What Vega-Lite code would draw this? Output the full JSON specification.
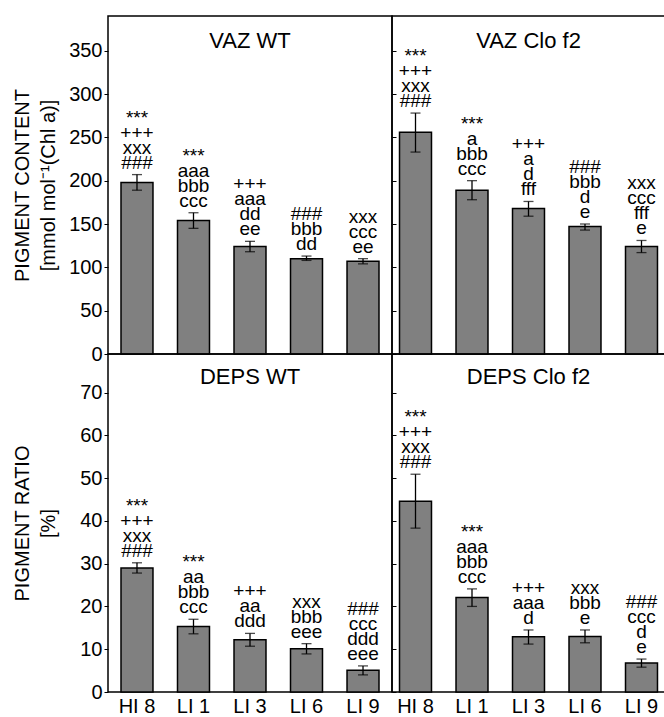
{
  "$schema": "https://vega.github.io/schema/vega-lite/v6.json",
  "padding": {"left": 11, "top": 15, "right": 0, "bottom": 0},
  "background": "white",
  "spacing": 0,
  "bounds": "flush",
  "columns": 2,
  "config": {
    "font": "Liberation Sans",
    "view": {"stroke": "black", "strokeWidth": 1.5},
    "concat": {"spacing": 0},
    "axis": {"labelFont": "Liberation Sans", "titleFont": "Liberation Sans", "labelColor": "black", "titleColor": "black", "tickColor": "black", "grid": false, "domain": false},
    "text": {"font": "Liberation Sans", "color": "black"}
  },
  "datasets": {
    "vazwt": [
      {"light": "HI 8", "value": 198, "lo": 189, "hi": 207, "t1": "###", "t2": "xxx", "t3": "+++", "t4": "***"},
      {"light": "LI 1", "value": 154, "lo": 145, "hi": 163, "t1": "ccc", "t2": "bbb", "t3": "aaa", "t4": "***"},
      {"light": "LI 3", "value": 124, "lo": 118, "hi": 130, "t1": "ee", "t2": "dd", "t3": "aaa", "t4": "+++"},
      {"light": "LI 6", "value": 110, "lo": 108, "hi": 113, "t1": "dd", "t2": "bbb", "t3": "###", "t4": ""},
      {"light": "LI 9", "value": 107, "lo": 104, "hi": 110, "t1": "ee", "t2": "ccc", "t3": "xxx", "t4": ""}
    ],
    "vazclo": [
      {"light": "HI 8", "value": 256, "lo": 233, "hi": 278, "t1": "###", "t2": "xxx", "t3": "+++", "t4": "***"},
      {"light": "LI 1", "value": 189, "lo": 178, "hi": 200, "t1": "ccc", "t2": "bbb", "t3": "a", "t4": "***"},
      {"light": "LI 3", "value": 168, "lo": 159, "hi": 176, "t1": "fff", "t2": "d", "t3": "a", "t4": "+++"},
      {"light": "LI 6", "value": 147, "lo": 143, "hi": 150, "t1": "e", "t2": "d", "t3": "bbb", "t4": "###"},
      {"light": "LI 9", "value": 124, "lo": 117, "hi": 131, "t1": "e", "t2": "fff", "t3": "ccc", "t4": "xxx"}
    ],
    "depswt": [
      {"light": "HI 8", "value": 29.0, "lo": 27.8, "hi": 30.2, "t1": "###", "t2": "xxx", "t3": "+++", "t4": "***"},
      {"light": "LI 1", "value": 15.3, "lo": 13.6, "hi": 17.0, "t1": "ccc", "t2": "bbb", "t3": "aa", "t4": "***"},
      {"light": "LI 3", "value": 12.2, "lo": 10.7, "hi": 13.7, "t1": "ddd", "t2": "aa", "t3": "+++", "t4": ""},
      {"light": "LI 6", "value": 10.1, "lo": 8.9, "hi": 11.3, "t1": "eee", "t2": "bbb", "t3": "xxx", "t4": ""},
      {"light": "LI 9", "value": 5.1, "lo": 4.0, "hi": 6.1, "t1": "eee", "t2": "ddd", "t3": "ccc", "t4": "###"}
    ],
    "depsclo": [
      {"light": "HI 8", "value": 44.6, "lo": 38.3, "hi": 50.9, "t1": "###", "t2": "xxx", "t3": "+++", "t4": "***"},
      {"light": "LI 1", "value": 22.1, "lo": 20.0, "hi": 24.1, "t1": "ccc", "t2": "bbb", "t3": "aaa", "t4": "***"},
      {"light": "LI 3", "value": 12.9, "lo": 11.2, "hi": 14.5, "t1": "d", "t2": "aaa", "t3": "+++", "t4": ""},
      {"light": "LI 6", "value": 13.0, "lo": 11.5, "hi": 14.5, "t1": "e", "t2": "bbb", "t3": "xxx", "t4": ""},
      {"light": "LI 9", "value": 6.8, "lo": 5.8, "hi": 7.7, "t1": "e", "t2": "d", "t3": "ccc", "t4": "###"}
    ]
  },
  "concat": [
    {
      "data": {"name": "vazwt"},
      "width": 284, "height": 338,
      "encoding": {
        "x": {"field": "light", "type": "nominal", "sort": null, "axis": null, "scale": {"paddingInner": 0.434, "paddingOuter": 0.23}}
      },
      "layer": [
        {"mark": {"type": "bar", "fill": "#808080", "stroke": "black", "strokeWidth": 1.5},
         "encoding": {"y": {"field": "value", "type": "quantitative", "scale": {"domain": [0, 390], "nice": false},
           "axis": {"values": [0, 50, 100, 150, 200, 250, 300, 350], "labelFontSize": 20, "tickSize": 4, "labelPadding": 2, "titleFontSize": 20, "titleFontWeight": "normal", "titlePadding": 10, "title": ["PIGMENT CONTENT", "[mmol mol⁻¹(Chl a)]"], "titleLineHeight": 26}}}},
        {"mark": {"type": "rule", "color": "black", "strokeWidth": 1.3}, "encoding": {"y": {"field": "lo", "type": "quantitative"}, "y2": {"field": "hi"}}},
        {"mark": {"type": "tick", "color": "black", "size": 10, "thickness": 1.3}, "encoding": {"y": {"field": "lo", "type": "quantitative"}}},
        {"mark": {"type": "tick", "color": "black", "size": 10, "thickness": 1.3}, "encoding": {"y": {"field": "hi", "type": "quantitative"}}},
        {"mark": {"type": "text", "baseline": "alphabetic", "fontSize": 19, "dy": -6}, "encoding": {"y": {"field": "hi", "type": "quantitative"}, "text": {"field": "t1"}}},
        {"mark": {"type": "text", "baseline": "alphabetic", "fontSize": 19, "dy": -21}, "encoding": {"y": {"field": "hi", "type": "quantitative"}, "text": {"field": "t2"}}},
        {"mark": {"type": "text", "baseline": "alphabetic", "fontSize": 19, "dy": -36}, "encoding": {"y": {"field": "hi", "type": "quantitative"}, "text": {"field": "t3"}}},
        {"mark": {"type": "text", "baseline": "alphabetic", "fontSize": 19, "dy": -51}, "encoding": {"y": {"field": "hi", "type": "quantitative"}, "text": {"field": "t4"}}},
        {"data": {"values": [{"panel": "VAZ WT"}]}, "mark": {"type": "text", "baseline": "alphabetic", "fontSize": 22},
         "encoding": {"x": {"datum": "LI 3"}, "y": {"datum": 353}, "text": {"field": "panel"}}}
      ]
    },
    {
      "data": {"name": "vazclo"},
      "width": 273, "height": 338,
      "encoding": {
        "x": {"field": "light", "type": "nominal", "sort": null, "axis": null, "scale": {"paddingInner": 0.434, "paddingOuter": 0.133}}
      },
      "layer": [
        {"mark": {"type": "bar", "fill": "#808080", "stroke": "black", "strokeWidth": 1.5},
         "encoding": {"y": {"field": "value", "type": "quantitative", "scale": {"domain": [0, 390], "nice": false},
           "axis": {"values": [0, 50, 100, 150, 200, 250, 300, 350], "labels": false, "tickSize": -4, "title": null}}}},
        {"mark": {"type": "rule", "color": "black", "strokeWidth": 1.3}, "encoding": {"y": {"field": "lo", "type": "quantitative"}, "y2": {"field": "hi"}}},
        {"mark": {"type": "tick", "color": "black", "size": 10, "thickness": 1.3}, "encoding": {"y": {"field": "lo", "type": "quantitative"}}},
        {"mark": {"type": "tick", "color": "black", "size": 10, "thickness": 1.3}, "encoding": {"y": {"field": "hi", "type": "quantitative"}}},
        {"mark": {"type": "text", "baseline": "alphabetic", "fontSize": 19, "dy": -6}, "encoding": {"y": {"field": "hi", "type": "quantitative"}, "text": {"field": "t1"}}},
        {"mark": {"type": "text", "baseline": "alphabetic", "fontSize": 19, "dy": -21}, "encoding": {"y": {"field": "hi", "type": "quantitative"}, "text": {"field": "t2"}}},
        {"mark": {"type": "text", "baseline": "alphabetic", "fontSize": 19, "dy": -36}, "encoding": {"y": {"field": "hi", "type": "quantitative"}, "text": {"field": "t3"}}},
        {"mark": {"type": "text", "baseline": "alphabetic", "fontSize": 19, "dy": -51}, "encoding": {"y": {"field": "hi", "type": "quantitative"}, "text": {"field": "t4"}}},
        {"data": {"values": [{"panel": "VAZ Clo f2"}]}, "mark": {"type": "text", "baseline": "alphabetic", "fontSize": 22},
         "encoding": {"x": {"datum": "LI 3"}, "y": {"datum": 353}, "text": {"field": "panel"}}}
      ]
    },
    {
      "data": {"name": "depswt"},
      "width": 284, "height": 338,
      "encoding": {
        "x": {"field": "light", "type": "nominal", "sort": null, "scale": {"paddingInner": 0.434, "paddingOuter": 0.23},
          "axis": {"title": null, "labelAngle": 0, "labelFontSize": 20, "ticks": false, "labelPadding": 4}}
      },
      "layer": [
        {"mark": {"type": "bar", "fill": "#808080", "stroke": "black", "strokeWidth": 1.5},
         "encoding": {"y": {"field": "value", "type": "quantitative", "scale": {"domain": [0, 79], "nice": false},
           "axis": {"values": [0, 10, 20, 30, 40, 50, 60, 70], "labelFontSize": 20, "tickSize": 4, "labelPadding": 2, "titleFontSize": 20, "titleFontWeight": "normal", "titlePadding": 21, "title": ["PIGMENT RATIO", "[%]"], "titleLineHeight": 26}}}},
        {"mark": {"type": "rule", "color": "black", "strokeWidth": 1.3}, "encoding": {"y": {"field": "lo", "type": "quantitative"}, "y2": {"field": "hi"}}},
        {"mark": {"type": "tick", "color": "black", "size": 10, "thickness": 1.3}, "encoding": {"y": {"field": "lo", "type": "quantitative"}}},
        {"mark": {"type": "tick", "color": "black", "size": 10, "thickness": 1.3}, "encoding": {"y": {"field": "hi", "type": "quantitative"}}},
        {"mark": {"type": "text", "baseline": "alphabetic", "fontSize": 19, "dy": -6}, "encoding": {"y": {"field": "hi", "type": "quantitative"}, "text": {"field": "t1"}}},
        {"mark": {"type": "text", "baseline": "alphabetic", "fontSize": 19, "dy": -21}, "encoding": {"y": {"field": "hi", "type": "quantitative"}, "text": {"field": "t2"}}},
        {"mark": {"type": "text", "baseline": "alphabetic", "fontSize": 19, "dy": -36}, "encoding": {"y": {"field": "hi", "type": "quantitative"}, "text": {"field": "t3"}}},
        {"mark": {"type": "text", "baseline": "alphabetic", "fontSize": 19, "dy": -51}, "encoding": {"y": {"field": "hi", "type": "quantitative"}, "text": {"field": "t4"}}},
        {"data": {"values": [{"panel": "DEPS WT"}]}, "mark": {"type": "text", "baseline": "alphabetic", "fontSize": 22},
         "encoding": {"x": {"datum": "LI 3"}, "y": {"datum": 72}, "text": {"field": "panel"}}}
      ]
    },
    {
      "data": {"name": "depsclo"},
      "width": 273, "height": 338,
      "encoding": {
        "x": {"field": "light", "type": "nominal", "sort": null, "scale": {"paddingInner": 0.434, "paddingOuter": 0.133},
          "axis": {"title": null, "labelAngle": 0, "labelFontSize": 20, "ticks": false, "labelPadding": 4}}
      },
      "layer": [
        {"mark": {"type": "bar", "fill": "#808080", "stroke": "black", "strokeWidth": 1.5},
         "encoding": {"y": {"field": "value", "type": "quantitative", "scale": {"domain": [0, 79], "nice": false},
           "axis": {"values": [0, 10, 20, 30, 40, 50, 60, 70], "labels": false, "tickSize": -4, "title": null}}}},
        {"mark": {"type": "rule", "color": "black", "strokeWidth": 1.3}, "encoding": {"y": {"field": "lo", "type": "quantitative"}, "y2": {"field": "hi"}}},
        {"mark": {"type": "tick", "color": "black", "size": 10, "thickness": 1.3}, "encoding": {"y": {"field": "lo", "type": "quantitative"}}},
        {"mark": {"type": "tick", "color": "black", "size": 10, "thickness": 1.3}, "encoding": {"y": {"field": "hi", "type": "quantitative"}}},
        {"mark": {"type": "text", "baseline": "alphabetic", "fontSize": 19, "dy": -6}, "encoding": {"y": {"field": "hi", "type": "quantitative"}, "text": {"field": "t1"}}},
        {"mark": {"type": "text", "baseline": "alphabetic", "fontSize": 19, "dy": -21}, "encoding": {"y": {"field": "hi", "type": "quantitative"}, "text": {"field": "t2"}}},
        {"mark": {"type": "text", "baseline": "alphabetic", "fontSize": 19, "dy": -36}, "encoding": {"y": {"field": "hi", "type": "quantitative"}, "text": {"field": "t3"}}},
        {"mark": {"type": "text", "baseline": "alphabetic", "fontSize": 19, "dy": -51}, "encoding": {"y": {"field": "hi", "type": "quantitative"}, "text": {"field": "t4"}}},
        {"data": {"values": [{"panel": "DEPS Clo f2"}]}, "mark": {"type": "text", "baseline": "alphabetic", "fontSize": 22},
         "encoding": {"x": {"datum": "LI 3"}, "y": {"datum": 72}, "text": {"field": "panel"}}}
      ]
    }
  ]
}
